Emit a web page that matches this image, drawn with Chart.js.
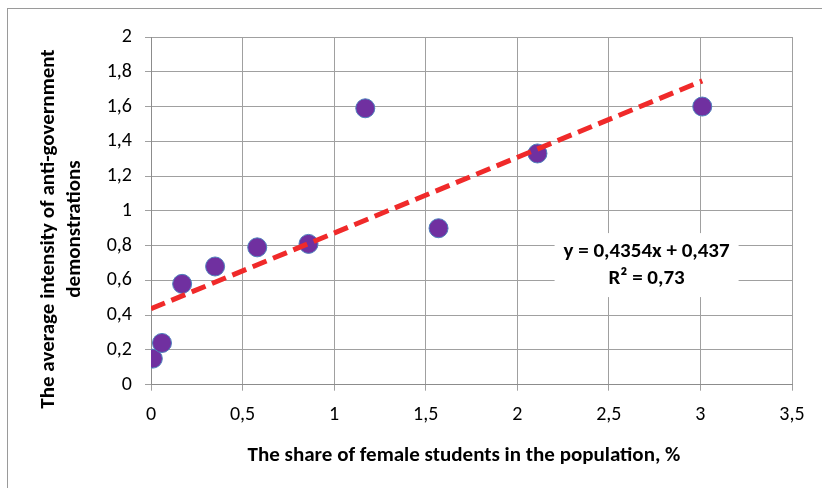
<!DOCTYPE html>
<html>
<head>
<meta charset="utf-8">
<script src="https://cdn.jsdelivr.net/npm/chart.js@4/dist/chart.umd.min.js"></script>
<style>
  html, body { margin: 0; padding: 0; background: #ffffff; }
  #wrap { width: 822px; height: 488px; position: relative; }
</style>
</head>
<body>
<div id="wrap"><canvas id="c" width="822" height="488"></canvas></div>
<script>
// Share of female students (%) and average protest intensity per observation
const femaleShare = [0.01, 0.06, 0.17, 0.35, 0.58, 0.86, 1.17, 1.57, 2.11, 3.01];
const protestIntensity = [0.15, 0.24, 0.58, 0.68, 0.79, 0.81, 1.59, 0.90, 1.33, 1.60];

// Linear trend (least squares) as reported on the chart
const trendSlope = 0.4354;
const trendIntercept = 0.437;
const trendR2 = 0.73;

// Axis ticks and their printed labels (comma decimals)
const xTickValues = [0, 0.5, 1, 1.5, 2, 2.5, 3, 3.5];
const xTickLabels = ['0', '0,5', '1', '1,5', '2', '2,5', '3', '3,5'];
const yTickValues = [0, 0.2, 0.4, 0.6, 0.8, 1, 1.2, 1.4, 1.6, 1.8, 2];
const yTickLabels = ['0', '0,2', '0,4', '0,6', '0,8', '1', '1,2', '1,4', '1,6', '1,8', '2'];

const xTitle = 'The share of female students in the population, %';
const yTitle = ['The average intensity of anti-government', 'demonstrations'];

const FONT = "Carlito, Lato, 'Liberation Sans', sans-serif";
const TITLE_FONT = 'bold 21px ' + FONT;
const fmt = v => v.toString().replace('.', ',');

const points = femaleShare.map((x, i) => ({ x: x, y: protestIntensity[i] }));
const trendX0 = 0;
const trendX1 = femaleShare[femaleShare.length - 1];
const trendPoints = [
  { x: trendX0, y: trendSlope * trendX0 + trendIntercept },
  { x: trendX1, y: trendSlope * trendX1 + trendIntercept }
];

const eqLines = [
  'y = ' + fmt(trendSlope) + 'x + ' + fmt(trendIntercept),
  'R² = ' + fmt(trendR2)
];

// Frame around the whole chart
const framePlugin = {
  id: 'frame',
  beforeDraw(chart) {
    const ctx = chart.ctx;
    ctx.save();
    ctx.fillStyle = '#ffffff';
    ctx.fillRect(0, 0, chart.width, chart.height);
    ctx.strokeStyle = '#9a9a9a';
    ctx.lineWidth = 1;
    ctx.strokeRect(7.5, 8.5, chart.width + 20, chart.height + 20);
    ctx.restore();
  }
};

// Axis titles, placed relative to the plot area
const axisTitlePlugin = {
  id: 'axisTitles',
  afterDraw(chart) {
    const { ctx, chartArea } = chart;
    ctx.save();
    ctx.fillStyle = '#000000';
    ctx.font = TITLE_FONT;
    ctx.textAlign = 'center';
    ctx.textBaseline = 'middle';
    // horizontal axis title
    ctx.fillText(xTitle, chartArea.left + 313, chartArea.bottom + 71);
    // vertical axis title, two rotated lines
    ctx.translate(0, chartArea.top + 192);
    ctx.rotate(-Math.PI / 2);
    ctx.fillText(yTitle[0], 0, 49);
    ctx.fillText(yTitle[1], 0, 75);
    ctx.restore();
  }
};

// Trend equation box on a white background
const equationPlugin = {
  id: 'equation',
  afterDatasetsDraw(chart) {
    const { ctx, scales } = chart;
    const cx = scales.x.getPixelForValue(2.706);
    const cy = scales.y.getPixelForValue(0.688);
    ctx.save();
    ctx.fillStyle = '#ffffff';
    ctx.fillRect(cx - 92, cy - 32, 184, 64);
    ctx.fillStyle = '#000000';
    ctx.font = TITLE_FONT;
    ctx.textAlign = 'center';
    ctx.textBaseline = 'middle';
    ctx.fillText(eqLines[0], cx, cy - 13);
    ctx.fillText(eqLines[1], cx, cy + 14);
    ctx.restore();
  }
};

new Chart(document.getElementById('c'), {
  type: 'scatter',
  data: {
    datasets: [
      {
        label: 'Observations',
        data: points,
        backgroundColor: '#7030a0',
        borderColor: '#4f81bd',
        borderWidth: 1,
        pointRadius: 9.5,
        pointHoverRadius: 9.5,
        order: 1
      },
      {
        label: 'Linear trend',
        type: 'line',
        data: trendPoints,
        borderColor: '#f02a2a',
        borderWidth: 5,
        borderDash: [15, 7],
        borderCapStyle: 'butt',
        pointRadius: 0,
        fill: false,
        order: 0
      }
    ]
  },
  options: {
    responsive: false,
    animation: false,
    events: [],
    layout: { padding: { top: 37, right: 30, left: 0, bottom: 0 } },
    plugins: {
      legend: { display: false },
      tooltip: { enabled: false },
      title: { display: false }
    },
    scales: {
      x: {
        type: 'linear',
        min: 0,
        max: 3.5,
        afterBuildTicks: axis => { axis.ticks = xTickValues.map(v => ({ value: v })); },
        afterFit: axis => { axis.height = 103.3; },
        ticks: {
          callback: (v, i) => xTickLabels[i],
          color: '#000000',
          font: { family: FONT, size: 20 },
          padding: 12,
          maxRotation: 0,
          autoSkip: false
        },
        grid: { color: '#a0a0a0', lineWidth: 1, tickLength: 6 },
        border: { color: '#8c8c8c', width: 1 },
        title: { display: false }
      },
      y: {
        type: 'linear',
        min: 0,
        max: 2,
        afterBuildTicks: axis => { axis.ticks = yTickValues.map(v => ({ value: v })); },
        afterFit: axis => { axis.width = 151; },
        ticks: {
          callback: (v, i) => yTickLabels[i],
          color: '#000000',
          font: { family: FONT, size: 20 },
          padding: 13,
          autoSkip: false
        },
        grid: { color: '#a0a0a0', lineWidth: 1, tickLength: 6 },
        border: { color: '#8c8c8c', width: 1 },
        title: { display: false }
      }
    }
  },
  plugins: [framePlugin, axisTitlePlugin, equationPlugin]
});
</script>
</body>
</html>
